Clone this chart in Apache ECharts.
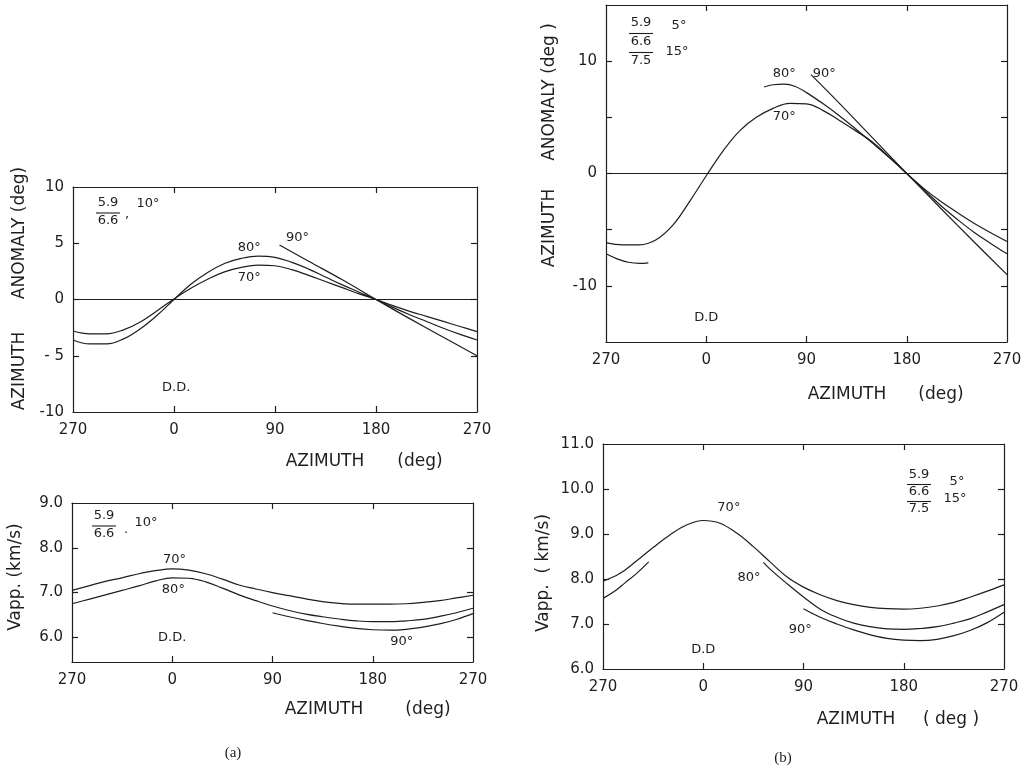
<!DOCTYPE html>
<html>
<head>
<meta charset="utf-8">
<script src="https://cdn.jsdelivr.net/npm/echarts@6/dist/echarts.min.js"></script>
<style>
  html, body { margin: 0; padding: 0; background: #ffffff; }
  #stage { position: relative; width: 1025px; height: 770px; background: #ffffff; }
  .layer { position: absolute; left: 0; top: 0; width: 1025px; height: 770px; }
</style>
</head>
<body>
<div id="stage"></div>
<script>
// Azimuth runs 270 -> 0 -> 90 -> 180 -> 270; the left-hand 270 is stored as -90.
const azTicks = [-90, 0, 90, 180, 270];
const az = [-90, -75, -60, -45, -30, -15, 0, 15, 30, 45, 60, 75, 90, 105, 120, 135, 150, 165, 180, 195, 210, 225, 240, 255, 270];

// (a) azimuth anomaly, layers 5.9 / 6.6 km/s, dip 10 deg
const anomA70 = [-2.8, -3.05, -3.05, -2.7, -2.0, -1.0, 0.05, 1.0, 1.8, 2.45, 2.85, 3.05, 3.0, 2.65, 2.15, 1.6, 1.05, 0.5, 0, -0.55, -1.05, -1.5, -1.95, -2.4, -2.85];
const anomA80 = [-3.6, -3.95, -3.95, -3.5, -2.6, -1.4, 0.0, 1.35, 2.4, 3.2, 3.65, 3.85, 3.75, 3.3, 2.7, 2.0, 1.3, 0.65, 0, -0.7, -1.35, -1.95, -2.55, -3.1, -3.6];
const azA90 = [94, 120, 150, 180, 210, 240, 270];
const anomA90 = [4.85, 3.4, 1.75, 0, -1.7, -3.35, -5.0];

// (a) apparent velocity
const vappA70 = [7.05, 7.15, 7.25, 7.33, 7.42, 7.49, 7.53, 7.5, 7.42, 7.3, 7.17, 7.08, 7.0, 6.93, 6.86, 6.8, 6.76, 6.74, 6.74, 6.74, 6.75, 6.78, 6.82, 6.88, 6.94];
const vappA80 = [6.75, 6.85, 6.95, 7.05, 7.15, 7.26, 7.33, 7.32, 7.24, 7.1, 6.95, 6.82, 6.7, 6.6, 6.52, 6.46, 6.41, 6.37, 6.35, 6.35, 6.37, 6.4, 6.47, 6.55, 6.65];
const azV90 = [90, 105, 120, 135, 150, 165, 180, 195, 210, 225, 240, 255, 270];
const vappA90 = [6.55, 6.46, 6.38, 6.31, 6.25, 6.2, 6.17, 6.16, 6.18, 6.23, 6.3, 6.4, 6.53];
const vappTicksA = [6, 7, 8, 9];

// (b) azimuth anomaly, layers 5.9 / 6.6 / 7.5 km/s, dips 5 and 15 deg
const anomB70 = [-6.15, -6.35, -6.35, -5.9, -4.6, -2.5, -0.2, 2.0, 3.8, 5.0, 5.8, 6.25, 6.2, 5.6, 4.7, 3.75, 2.75, 1.4, 0, -1.3, -2.45, -3.45, -4.4, -5.25, -6.05];
const azB80 = [-90, -80, -70, -60, -52, null, 52, 60, 70, 80, 90, 105, 120, 135, 150, 165, 180, 195, 210, 225, 240, 255, 270];
const anomB80 = [-7.15, -7.6, -7.9, -8.0, -7.95, null, 7.7, 7.9, 7.95, 7.75, 7.2, 6.2, 5.1, 3.9, 2.65, 1.35, 0, -1.4, -2.8, -4.05, -5.2, -6.2, -7.15];
const azB90 = [94, 120, 150, 180, 210, 240, 270];
const anomB90 = [8.8, 6.2, 3.1, 0, -3.05, -6.05, -9.0];

// (b) apparent velocity
const vappB70 = [7.95, 8.12, 8.4, 8.7, 8.98, 9.2, 9.3, 9.24, 9.02, 8.72, 8.38, 8.05, 7.82, 7.65, 7.52, 7.43, 7.37, 7.34, 7.33, 7.35, 7.4, 7.48, 7.6, 7.73, 7.87];
const azVB80 = [-90, -80, -70, -60, -49, null, 54, 60, 75, 90, 105, 120, 135, 150, 165, 180, 195, 210, 225, 240, 255, 270];
const vappB80 = [7.57, 7.72, 7.92, 8.12, 8.38, null, 8.37, 8.22, 7.9, 7.6, 7.33, 7.15, 7.02, 6.94, 6.89, 6.88, 6.9, 6.94, 7.02, 7.12, 7.27, 7.43];
const vappB90 = [7.34, 7.15, 7.0, 6.87, 6.76, 6.68, 6.64, 6.63, 6.66, 6.74, 6.86, 7.03, 7.26];

const INK = '#1e1e1e';
const FONT = 'DejaVu Sans';
const TICK_PX = 6;

function pairs(xs, ys) {
  return xs.map((x, i) => (x === null ? [null, null] : [x, ys[i]]));
}

// ---- axis helpers (one grid per chart layer, boxed by four axis lines) ----
function lineOpt() {
  return { show: true, onZero: false, lineStyle: { color: INK, width: 1.2 } };
}
function xAxesFor() {
  const base = {
    type: 'value', min: azTicks[0], max: azTicks[azTicks.length - 1], interval: 90,
    splitLine: { show: false }, axisTick: { show: false }
  };
  return [
    Object.assign({}, base, {
      position: 'bottom', axisLine: lineOpt(),
      axisLabel: { show: true, margin: 11, color: INK, fontFamily: FONT, fontSize: 15,
        formatter: v => String(v < 0 ? v + 360 : v) }
    }),
    Object.assign({}, base, { position: 'top', axisLine: lineOpt(), axisLabel: { show: false } })
  ];
}
function yAxesFor(cfg) {
  return ['left', 'right'].map(pos => {
    const ax = {
      type: 'value', position: pos, min: cfg.min, max: cfg.max,
      axisLine: lineOpt(), axisTick: { show: false },
      splitLine: { show: false }, axisLabel: { show: false }
    };
    if (cfg.interval) ax.interval = cfg.interval;
    if (pos === 'left') {
      ax.axisLabel = { show: true, margin: 9, color: INK, fontFamily: FONT, fontSize: 15, formatter: cfg.fmt };
      if (cfg.ticks) ax.axisLabel.customValues = cfg.ticks.slice();
    }
    return ax;
  });
}

// value positions of the y ticks of a panel
function yTickValues(cfg) {
  if (cfg.ticks) return cfg.ticks.slice();
  const out = [];
  for (let v = cfg.min; v <= cfg.max + 1e-9; v += cfg.interval) out.push(Math.round(v * 1e6) / 1e6);
  return out;
}

// short inward tick segments on all four sides of a panel box, placed through the axes
function boxTicks(p) {
  const y = p.y, g = p.grid;
  const x0 = azTicks[0], x1 = azTicks[azTicks.length - 1];
  const dy = TICK_PX / g.height * (y.max - y.min);
  const dx = TICK_PX / g.width * (x1 - x0);
  const segs = [];
  azTicks.slice(1, -1).forEach(a => {
    segs.push([{ coord: [a, y.min] }, { coord: [a, y.min + dy] }]);
    segs.push([{ coord: [a, y.max - dy] }, { coord: [a, y.max] }]);
  });
  yTickValues(y).filter(v => v > y.min && v < y.max).forEach(v => {
    segs.push([{ coord: [x0, v] }, { coord: [x0 + dx, v] }]);
    segs.push([{ coord: [x1 - dx, v] }, { coord: [x1, v] }]);
  });
  return segs;
}

function curve(data, notes) {
  const s = {
    type: 'line', xAxisIndex: 0, yAxisIndex: 0,
    data: data, smooth: 0.4, showSymbol: false, symbol: 'none',
    connectNulls: false, silent: true,
    lineStyle: { color: INK, width: 1.2 }, z: 3
  };
  if (notes) {
    s.markPoint = {
      symbol: 'circle', symbolSize: 0, silent: true,
      label: { show: true, position: 'inside', color: INK, fontFamily: FONT, fontSize: 13, textBorderWidth: 0 },
      data: notes.map(n => ({ coord: n.at, label: { formatter: n.text, color: INK, textBorderWidth: 0 } }))
    };
  }
  return s;
}

// ---- static annotations: axis titles, layer-velocity fractions, panel tags ----
function txt(text, x, y, opts) {
  opts = opts || {};
  return {
    type: 'text', x: x, y: y, rotation: opts.rot || 0, silent: true,
    style: {
      text: text, fill: INK,
      font: (opts.size || 17) + 'px "' + (opts.family || FONT) + '"',
      textAlign: 'center', textVerticalAlign: 'middle'
    }
  };
}
function bar(x1, x2, y) {
  return { type: 'line', silent: true, shape: { x1: x1, y1: y, x2: x2, y2: y }, style: { stroke: INK, lineWidth: 1.1 } };
}
function fraction(cx, topY, nums, rowH) {
  const els = [];
  nums.forEach((n, k) => {
    els.push(txt(n, cx, topY + k * rowH, { size: 13 }));
    if (k < nums.length - 1) els.push(bar(cx - 12, cx + 12, topY + k * rowH + rowH / 2 + 1));
  });
  return els;
}
const UP = Math.PI / 2;

const panels = [
  { // (a) azimuth anomaly
    grid: { left: 73, top: 187, width: 404, height: 225 },
    y: { min: -10, max: 10, interval: 5, fmt: v => (v === -5 ? '- 5' : String(v)) },
    zero: true,
    series: [
      curve(pairs(az, anomA70), [{ text: '70°', at: [67, 1.95] }, { text: 'D.D.', at: [2, -7.8] }]),
      curve(pairs(az, anomA80), [{ text: '80°', at: [67, 4.6] }]),
      curve(pairs(azA90, anomA90), [{ text: '90°', at: [110, 5.5] }])
    ],
    art: [].concat(
      [txt('AZIMUTH', 20, 371, { rot: UP }), txt('ANOMALY (deg)', 20, 233, { rot: UP }),
       txt('AZIMUTH', 325, 462), txt('(deg)', 420, 462)],
      fraction(108, 203, ['5.9', '6.6'], 18),
      [txt(',', 127, 215, { size: 13 }), txt('10°', 148, 204, { size: 13 })]
    )
  },
  { // (a) apparent velocity
    grid: { left: 72, top: 503, width: 401, height: 159 },
    y: { min: 5.45, max: 9, ticks: vappTicksA, fmt: v => v.toFixed(1) },
    series: [
      curve(pairs(az, vappA70), [{ text: '70°', at: [2, 7.73] }, { text: 'D.D.', at: [0, 6.0] }]),
      curve(pairs(az, vappA80), [{ text: '80°', at: [1, 7.07] }]),
      curve(pairs(azV90, vappA90), [{ text: '90°', at: [206, 5.9] }])
    ],
    art: [].concat(
      [txt('Vapp. (km/s)', 16, 577, { rot: UP }),
       txt('AZIMUTH', 324, 710), txt('(deg)', 428, 710)],
      fraction(104, 516, ['5.9', '6.6'], 18),
      [txt('.', 126, 530, { size: 13 }), txt('10°', 146, 523, { size: 13 }),
       txt('(a)', 233, 753, { size: 15, family: 'Liberation Serif' })]
    )
  },
  { // (b) azimuth anomaly
    grid: { left: 606, top: 5, width: 401, height: 337 },
    y: { min: -15, max: 15, interval: 5, fmt: v => (v % 10 === 0 && Math.abs(v) < 15 ? String(v) : '') },
    zero: true,
    series: [
      curve(pairs(az, anomB70), [{ text: '70°', at: [70, 5.1] }, { text: 'D.D', at: [0, -12.8] }]),
      curve(pairs(azB80, anomB80), [{ text: '80°', at: [70, 8.9] }]),
      curve(pairs(azB90, anomB90), [{ text: '90°', at: [106, 8.9] }])
    ],
    art: [].concat(
      [txt('AZIMUTH', 550, 228, { rot: UP }), txt('ANOMALY (deg )', 550, 92, { rot: UP }),
       txt('AZIMUTH', 847, 395), txt('(deg)', 941, 395)],
      fraction(641, 23, ['5.9', '6.6', '7.5'], 19),
      [txt('5°', 679, 26, { size: 13 }), txt('15°', 677, 52, { size: 13 })]
    )
  },
  { // (b) apparent velocity
    grid: { left: 603, top: 444, width: 401, height: 225 },
    y: { min: 6, max: 11, interval: 1, fmt: v => v.toFixed(1) },
    series: [
      curve(pairs(az, vappB70), [{ text: '70°', at: [23, 9.58] }, { text: 'D.D', at: [0, 6.42] }]),
      curve(pairs(azVB80, vappB80), [{ text: '80°', at: [41, 8.04] }]),
      curve(pairs(azV90, vappB90), [{ text: '90°', at: [87, 6.87] }])
    ],
    art: [].concat(
      [txt('Vapp.  ( km/s)', 544, 573, { rot: UP }),
       txt('AZIMUTH', 856, 720), txt('( deg )', 951, 720)],
      fraction(919, 475, ['5.9', '6.6', '7.5'], 17),
      [txt('5°', 957, 482, { size: 13 }), txt('15°', 955, 499, { size: 13 }),
       txt('(b)', 783, 758, { size: 15, family: 'Liberation Serif' })]
    )
  }
];

// zero reference line and box ticks ride on each panel's first curve
panels.forEach(p => {
  p.series[0].markLine = {
    symbol: 'none', silent: true, label: { show: false },
    lineStyle: { color: INK, width: 1.2, type: 'solid' },
    data: (p.zero ? [{ yAxis: 0 }] : []).concat(boxTicks(p))
  };
});

// each panel is drawn by its own chart instance on a full-size transparent layer
const stage = document.getElementById('stage');
panels.forEach(p => {
  const layer = document.createElement('div');
  layer.className = 'layer';
  stage.appendChild(layer);
  const chart = echarts.init(layer, null, { renderer: 'canvas' });
  chart.setOption({
    animation: false,
    grid: p.grid,
    xAxis: xAxesFor(),
    yAxis: yAxesFor(p.y),
    series: p.series,
    graphic: p.art
  });
});
</script>
</body>
</html>
